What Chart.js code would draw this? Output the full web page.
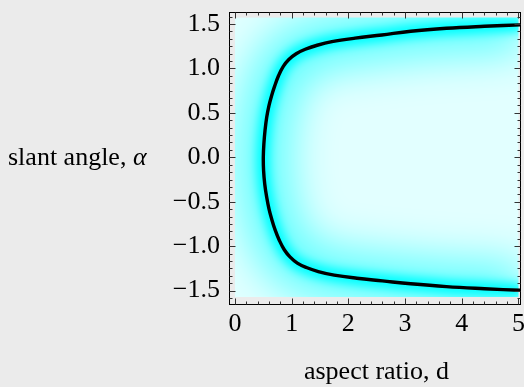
<!DOCTYPE html>
<html><head><meta charset="utf-8">
<script src="https://cdn.jsdelivr.net/npm/chart.js@4"></script>
<style>html,body{margin:0;padding:0;background:#ebebeb;}#wrap{width:524px;height:387px;position:relative;}</style>
</head><body><div id="wrap"><canvas id="c" width="524" height="387"></canvas></div>
<script>
// ---- data (lower branch, then upper branch) ----
const curveD = [5.06, 4.40, 3.73, 3.10, 2.60, 2.15, 1.75, 1.47, 1.26, 1.10, 0.97, 0.87, 0.78, 0.71, 0.65, 0.60, 0.56, 0.525, 0.505,
                0.50,
                0.51, 0.53, 0.56, 0.60, 0.645, 0.70, 0.77, 0.85, 0.95, 1.08, 1.24, 1.45, 1.71, 2.12, 2.59, 3.10, 3.73, 4.40, 5.06];
const curveAlpha = [-1.497, -1.478, -1.455, -1.423, -1.39, -1.36, -1.325, -1.285, -1.24, -1.19, -1.12, -1.04, -0.93, -0.82, -0.70, -0.58, -0.45, -0.30, -0.15,
                0.0,
                0.15, 0.30, 0.45, 0.58, 0.69, 0.80, 0.92, 1.02, 1.10, 1.165, 1.215, 1.26, 1.30, 1.34, 1.376, 1.418, 1.451, 1.473, 1.49];
const regionD = [0, 5];
const regionAlpha = [-1.5708, 1.5708];
const xTicks = [0, 1, 2, 3, 4, 5];
const xTickLabels = ['0', '1', '2', '3', '4', '5'];
const yTicks = [-1.5, -1.0, -0.5, 0.0, 0.5, 1.0, 1.5];
const yTickLabels = ['\u22121.5', '\u22121.0', '\u22120.5', '0.0', '0.5', '1.0', '1.5'];
const xMinorStep = 0.2;
const yMinorStep = 0.5 / 6;
const xTitle = 'aspect ratio, d';
const yTitleMain = 'slant angle, ';
const yTitleSym = '\u03b1';

const pts = curveD.map((d, i) => ({x: d, y: curveAlpha[i]}));
const FONT = '"Liberation Serif", "Times New Roman", serif';

const framePlugin = {
  id: 'frame',
  beforeDatasetsDraw(chart) {
    const {ctx, scales: {x, y}} = chart;
    const l = x.getPixelForValue(regionD[0]), r = x.getPixelForValue(regionD[1]);
    const t = y.getPixelForValue(regionAlpha[1]), b = y.getPixelForValue(regionAlpha[0]);
    ctx.save();
    ctx.fillStyle = '#e2ffff';
    ctx.fillRect(l, t, r - l, b - t);
    ctx.restore();
  },
  beforeDatasetDraw(chart, args) {
    const ds = chart.data.datasets[args.index];
    if (ds.blurPx) {
      const {ctx, scales: {x, y}} = chart;
      const l = x.getPixelForValue(regionD[0]), r = x.getPixelForValue(regionD[1]);
      const t = y.getPixelForValue(regionAlpha[1]), b = y.getPixelForValue(regionAlpha[0]);
      ctx.save();
      ctx.beginPath(); ctx.rect(l, t, r - l, b - t); ctx.clip();
      ctx.filter = 'blur(' + ds.blurPx + 'px)';
    }
  },
  afterDatasetDraw(chart, args) {
    const ds = chart.data.datasets[args.index];
    if (ds.blurPx) chart.ctx.restore();
  },
  afterDraw(chart) {
    const {ctx, chartArea: a, scales: {x, y}} = chart;
    ctx.save();
    ctx.strokeStyle = '#000';
    ctx.lineWidth = 1;
    ctx.strokeRect(Math.round(a.left) + 0.5, Math.round(a.top) + 0.5, Math.round(a.right - a.left), Math.round(a.bottom - a.top));
    ctx.strokeStyle = '#333';
    ctx.beginPath();
    const L = Math.round(a.left) + 0.5, R = Math.round(a.right) + 0.5, T = Math.round(a.top) + 0.5, B = Math.round(a.bottom) + 0.5;
    for (let k = Math.ceil(x.min / xMinorStep); k * xMinorStep <= x.max + 1e-9; k++) {
      const v = k * xMinorStep;
      const major = Math.abs(v - Math.round(v)) < 1e-6;
      const len = major ? 6 : 3;
      const px = Math.round(x.getPixelForValue(v)) + 0.5;
      ctx.moveTo(px, B); ctx.lineTo(px, B - len);
      ctx.moveTo(px, T); ctx.lineTo(px, T + len);
    }
    for (let k = Math.ceil(y.min / yMinorStep); k * yMinorStep <= y.max + 1e-9; k++) {
      const v = k * yMinorStep;
      const major = Math.abs(v * 2 - Math.round(v * 2)) < 1e-6;
      const len = major ? 6 : 3;
      const py = Math.round(y.getPixelForValue(v)) + 0.5;
      ctx.moveTo(L, py); ctx.lineTo(L + len, py);
      ctx.moveTo(R, py); ctx.lineTo(R - len, py);
    }
    ctx.stroke();
    ctx.fillStyle = '#000';
    ctx.textBaseline = 'alphabetic';
    ctx.font = '26px ' + FONT;
    ctx.textAlign = 'center';
    ctx.fillText(xTitle, (a.left + a.right) / 2 + 2, 379);
    ctx.textAlign = 'left';
    const yMid = y.getPixelForValue(0);
    ctx.fillText(yTitleMain, 8, yMid + 8);
    const w = ctx.measureText(yTitleMain).width;
    ctx.font = 'italic 26px ' + FONT;
    ctx.fillText(yTitleSym, 8 + w, yMid + 8);
    ctx.restore();
  }
};

new Chart(document.getElementById('c'), {
  type: 'scatter',
  data: {
    datasets: [
      {data: pts, order: 0, showLine: true, pointRadius: 0, tension: 0.4, borderColor: '#000', borderWidth: 3.4},
      {data: pts, order: 1, showLine: true, pointRadius: 0, tension: 0.4, borderColor: 'rgba(0,255,255,1)', borderWidth: 14, blurPx: 5},
      {data: pts, order: 2, showLine: true, pointRadius: 0, tension: 0.4, borderColor: 'rgba(0,255,255,0.55)', borderWidth: 56, blurPx: 20}
    ]
  },
  options: {
    responsive: false,
    animation: false,
    devicePixelRatio: 1,
    layout: {padding: {top: 12, right: 4, left: 0, bottom: 0}},
    plugins: {legend: {display: false}, tooltip: {enabled: false}},
    scales: {
      x: {
        type: 'linear', min: -0.105, max: 5.027,
        afterBuildTicks: s => { s.ticks = xTicks.map(v => ({value: v})); },
        afterFit: s => { s.height = 83; s.paddingLeft = 0; s.paddingRight = 0; },
        grid: {display: false, drawTicks: false},
        border: {display: false},
        ticks: {
          autoSkip: false, maxRotation: 0, padding: 5, color: '#000',
          font: {family: FONT, size: 26},
          callback: v => { const i = xTicks.indexOf(v); return i >= 0 ? xTickLabels[i] : ''; }
        }
      },
      y: {
        type: 'linear', min: -1.65, max: 1.634,
        afterBuildTicks: s => { s.ticks = yTicks.map(v => ({value: v})); },
        afterFit: s => { s.width = 229; s.paddingTop = 0; s.paddingBottom = 0; },
        grid: {display: false, drawTicks: false},
        border: {display: false},
        ticks: {
          autoSkip: false, padding: 9, color: '#000',
          font: {family: FONT, size: 26},
          callback: v => { const i = yTicks.findIndex(t => Math.abs(t - v) < 1e-9); return i >= 0 ? yTickLabels[i] : ''; }
        }
      }
    }
  },
  plugins: [framePlugin]
});
</script>
</body></html>
